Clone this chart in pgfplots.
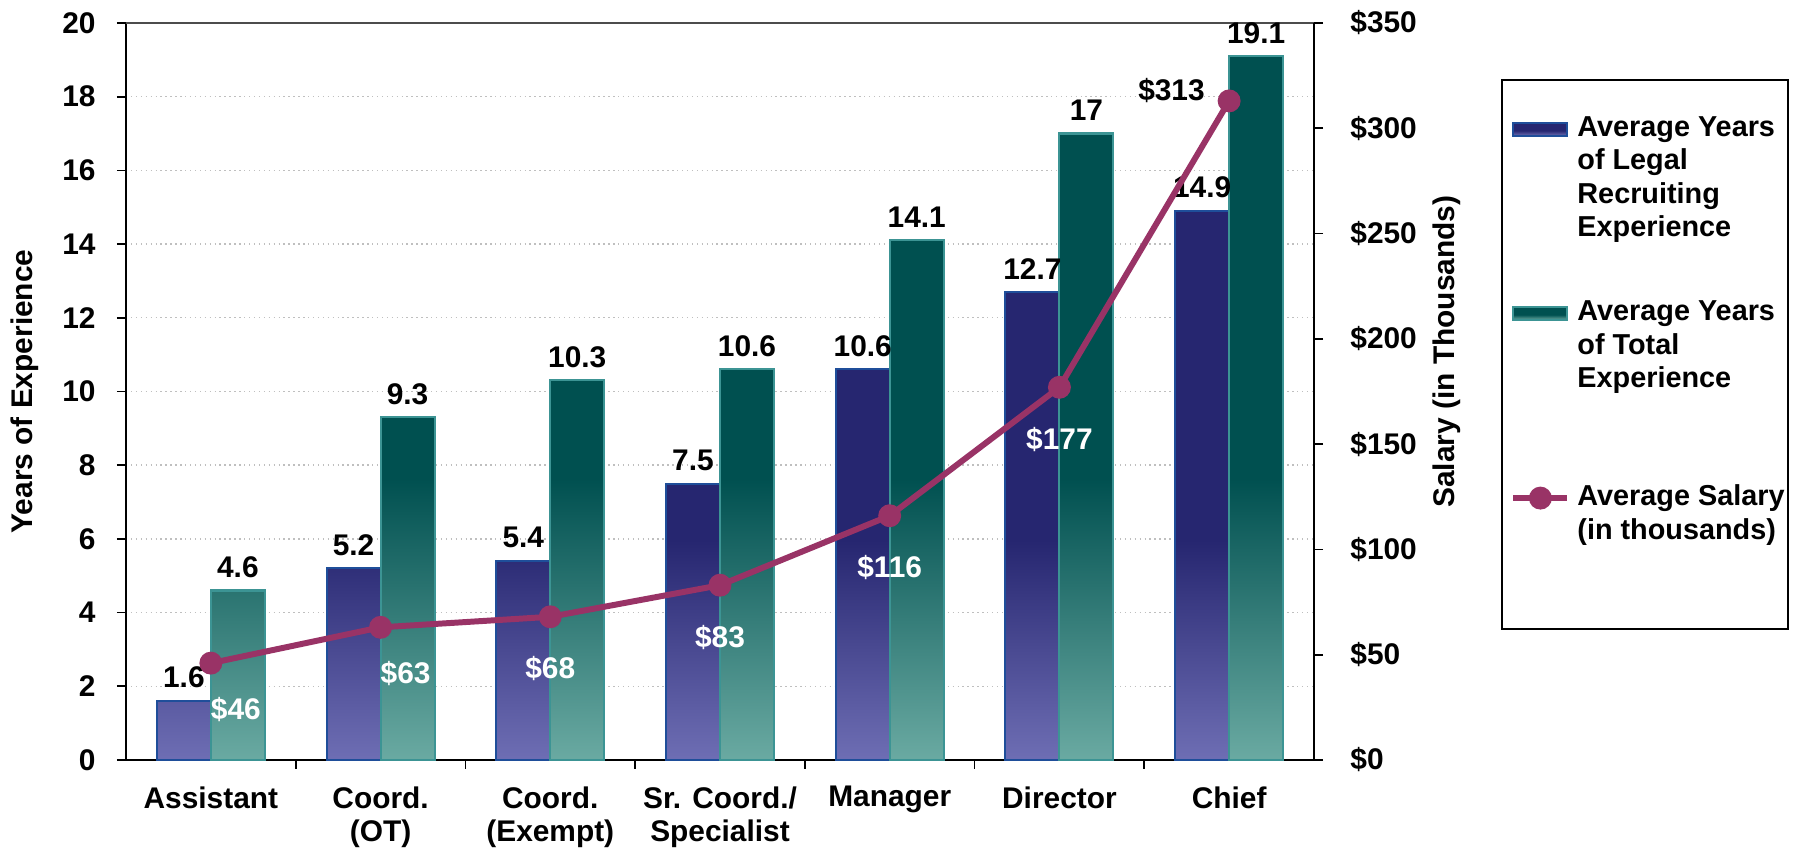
\documentclass[border=0pt]{standalone}
\usepackage{pgfplots}
\pgfplotsset{compat=1.18}
\usepackage{fontspec}
\setmainfont{Liberation Sans}

\definecolor{blueDark}{HTML}{262670}
\definecolor{blueLight}{HTML}{6E6EB4}
\definecolor{blueEdge}{HTML}{1F4E9A}
\definecolor{tealDark}{HTML}{005050}
\definecolor{tealLight}{HTML}{6AAAA2}
\definecolor{tealEdge}{HTML}{3C9494}
\definecolor{salary}{HTML}{993366}

% bars: dark at the top, lighter towards the base
\pgfdeclareverticalshading{blueshade}{100bp}{color(0bp)=(blueLight); color(25bp)=(blueLight); color(45bp)=(blueDark); color(100bp)=(blueDark)}
\pgfdeclareverticalshading{tealshade}{100bp}{color(0bp)=(tealLight); color(25bp)=(tealLight); color(45bp)=(tealDark); color(100bp)=(tealDark)}

\newcommand{\axisfont}{\fontsize{8.5}{9.4}\selectfont\bfseries}
\newcommand{\legfont}{\fontsize{8.2}{9.5}\selectfont\bfseries}

\pgfplotsset{
  /pgf/number format/assume math mode=true,
  barblue/.style={shade, shading=blueshade, draw=blueEdge, line width=0.6pt},
  barteal/.style={shade, shading=tealshade, draw=tealEdge, line width=0.6pt},
  barleg/.style={legend image code/.code={\draw[##1] (0cm,-0.065cm) rectangle (0.54cm,0.065cm);}},
  lineleg/.style={legend image code/.code={\draw[mark repeat=2, mark phase=2, ##1] plot coordinates {(0cm,0cm) (0.27cm,0cm) (0.54cm,0cm)};}},
  common/.style={
    width=11.88cm, height=7.37cm, scale only axis, clip=false,
    xmin=-0.5, xmax=6.5,
    tick align=outside, major tick length=0.09cm,
    tick style={black, line width=0.5pt},
    axis line style={black, line width=0.5pt},
    ticklabel style={font=\axisfont},
  },
}

\begin{document}
\begin{tikzpicture}
\begin{axis}[common, name=main,
  ymin=0, ymax=20, ytick={0,2,...,20},
  ybar, bar width=0.54cm,
  axis x line*=bottom, axis y line*=left,
  xtick={0.5,1.5,...,5.5}, xticklabels={},
  extra x ticks={0,...,6},
  extra x tick labels={Assistant,{Coord.\\(OT)},{Coord.\\(Exempt)},{Sr. Coord./\\Specialist},Manager,Director,Chief},
  extra x tick style={tick style={draw=none}, grid=none,
    xticklabel style={align=center, yshift=-0.05cm, font=\axisfont}},
  yticklabel style={xshift=-0.09cm},
  ymajorgrids, grid style={densely dotted, black!25},
  ylabel={Years of Experience},
  every axis y label/.style={at={(axis description cs:-0.085,0.5)}, rotate=90, anchor=center, font=\axisfont},
  nodes near coords,
  every node near coord/.append style={font=\axisfont, black},
]
\addplot[barblue, bar shift=-0.27cm] coordinates {
  (0,1.6) (1,5.2) (2,5.4) (3,7.5) (4,10.6) (5,12.7) (6,14.9)
};
\addplot[barteal, bar shift=0.27cm] coordinates {
  (0,4.6) (1,9.3) (2,10.3) (3,10.6) (4,14.1) (5,17) (6,19.1)
};
\draw[black!70, line width=0.5pt] (rel axis cs:0,1) -- (rel axis cs:1,1);
\end{axis}

\begin{axis}[common,
  ymin=0, ymax=350, ytick={0,50,...,350},
  axis y line*=right, axis x line=none,
  yticklabel={\$\pgfmathprintnumber{\tick}},
  yticklabel style={xshift=0.15cm},
  ylabel={Salary (in Thousands)},
  every axis y label/.style={at={(axis description cs:1.112,0.554)}, rotate=90, anchor=center, font=\axisfont},
  legend cell align=left,
  legend style={at={(1.158,0.9227)}, anchor=north west, draw=none, fill=none,
    inner xsep=0.08cm, inner ysep=0.29cm, row sep=1.45cm, font=\legfont},
]
\addlegendimage{barblue, barleg}
\addlegendentry{\parbox[t]{2.2cm}{\raggedright Average Years\\of Legal\\Recruiting\\Experience}}
\addlegendimage{barteal, barleg}
\addlegendentry{\parbox[t]{2.2cm}{\raggedright Average Years\\of Total\\Experience}}
\addplot[salary, line width=1.7pt, mark=*, mark size=2.4pt, mark options={fill=salary, draw=salary}, lineleg]
  coordinates {(0,46) (1,63) (2,68) (3,83) (4,116) (5,177) (6,313)};
\addlegendentry{\parbox[t]{2.2cm}{\raggedright Average Salary\\(in thousands)}}

% salary labels
\addplot[forget plot, draw=none, mark=none,
  nodes near coords={\$\pgfmathprintnumber{\pgfplotspointmeta}},
  every node near coord/.append style={font=\axisfont, white, anchor=center, xshift=0.25cm, yshift=-0.46cm}]
  coordinates {(0,46) (1,63)};
\addplot[forget plot, draw=none, mark=none,
  nodes near coords={\$\pgfmathprintnumber{\pgfplotspointmeta}},
  every node near coord/.append style={font=\axisfont, white, anchor=center, yshift=-0.52cm}]
  coordinates {(2,68) (3,83) (4,116) (5,177)};
\addplot[forget plot, draw=none, mark=none,
  nodes near coords={\$\pgfmathprintnumber{\pgfplotspointmeta}},
  every node near coord/.append style={font=\axisfont, black, anchor=east, xshift=-0.12cm, yshift=0.1cm}]
  coordinates {(6,313)};

\draw[black, line width=0.5pt] (axis description cs:1.158,0.9227) rectangle (axis description cs:1.399,0.1777);
\end{axis}
\pgfresetboundingbox
\path ([xshift=-1.26cm, yshift=-0.89cm]main.south west) rectangle ([xshift=4.81cm, yshift=0.23cm]main.north east);
\end{tikzpicture}
\end{document}
